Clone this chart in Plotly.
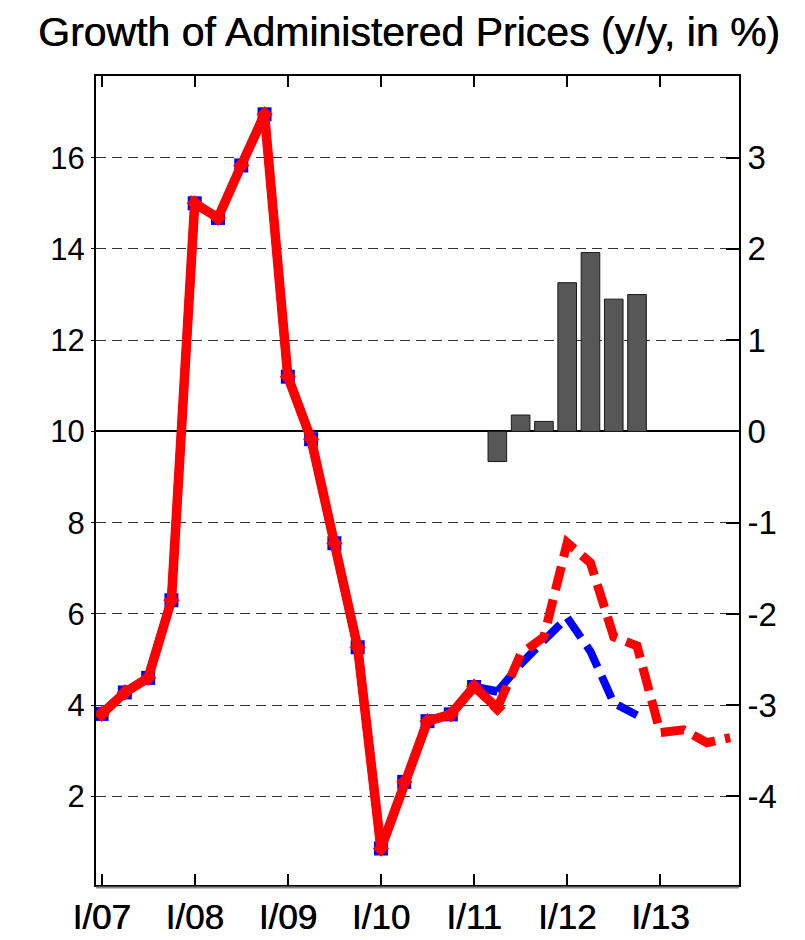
import plotly.graph_objects as go

# ---------------- data ----------------
quarters = ["I/07", "II/07", "III/07", "IV/07",
            "I/08", "II/08", "III/08", "IV/08",
            "I/09", "II/09", "III/09", "IV/09",
            "I/10", "II/10", "III/10", "IV/10",
            "I/11", "II/11", "III/11", "IV/11",
            "I/12", "II/12", "III/12", "IV/12",
            "I/13", "II/13", "III/13", "IV/13"]

# blue series (previous forecast), Q1/07 .. Q4/12
blue_values = [3.81, 4.28, 4.60, 6.30,
               15.00, 14.68, 15.83, 16.95,
               11.20, 9.83, 7.55, 5.27,
               0.86, 2.32, 3.65, 3.80,
               4.40, 4.30, 4.90, 5.42,
               5.92, 5.18, 4.05, 3.78]

# red series (current forecast), Q1/07 .. Q4/13
red_values = [3.81, 4.28, 4.60, 6.30,
              15.00, 14.68, 15.83, 16.95,
              11.20, 9.83, 7.55, 5.27,
              0.86, 2.32, 3.65, 3.80,
              4.41, 3.94, 5.12, 5.50,
              7.56, 7.12, 5.50, 5.30,
              3.40, 3.46, 3.18, 3.29]

# difference bars (right axis), Q2/11 .. Q4/12
bar_quarters = ["II/11", "III/11", "IV/11", "I/12", "II/12", "III/12", "IV/12"]
bar_values = [-0.33, 0.18, 0.11, 1.63, 1.96, 1.45, 1.50]

# axis ticks
x_tick_labels = ["I/07", "I/08", "I/09", "I/10", "I/11", "I/12", "I/13"]
left_ticks = [2, 4, 6, 8, 10, 12, 14, 16]
right_ticks = [-4, -3, -2, -1, 0, 1, 2, 3]
right_tick_text = ["-4", "-3", "-2", "-1", "0", "1", "2", "3"]

title_text = "Growth of Administered Prices (y/y, in %)"

# split between history (solid, markers) and forecast (dashed)
last_blue_marker = quarters.index("I/11")
split = quarters.index("II/11")

# ---------------- derived positions ----------------
xi = list(range(len(quarters)))
bar_x = [quarters.index(q) for q in bar_quarters]
x_tick_vals = [quarters.index(q) for q in x_tick_labels]

FONT = "Liberation Sans, Arial, sans-serif"
RED = "#ff0000"
BLUE = "#0000ff"

fig = go.Figure()

# bars on right axis
fig.add_trace(go.Bar(
    x=bar_x, y=bar_values, yaxis="y2",
    marker=dict(color="#575757", line=dict(color="#1a1a1a", width=1)),
    width=0.8, showlegend=False, hoverinfo="skip"))

# blue history line
fig.add_trace(go.Scatter(
    x=xi[:split + 1], y=blue_values[:split + 1], mode="lines",
    line=dict(color=BLUE, width=8.5), showlegend=False))
# blue squares
fig.add_trace(go.Scatter(
    x=xi[:last_blue_marker + 1], y=blue_values[:last_blue_marker + 1], mode="markers",
    marker=dict(symbol="square", size=14, color=BLUE), showlegend=False))
# blue forecast dashed
fig.add_trace(go.Scatter(
    x=xi[split:len(blue_values)], y=blue_values[split:], mode="lines",
    line=dict(color=BLUE, width=8, dash="24px,10px"), showlegend=False))

# red history line
fig.add_trace(go.Scatter(
    x=xi[:split + 1], y=red_values[:split + 1], mode="lines",
    line=dict(color=RED, width=9.5), showlegend=False))
# red forecast dashed
fig.add_trace(go.Scatter(
    x=xi[split:], y=red_values[split:], mode="lines",
    line=dict(color=RED, width=9, dash="24px,10px"), showlegend=False))
# red diamonds
fig.add_trace(go.Scatter(
    x=xi[:split + 1], y=red_values[:split + 1], mode="markers",
    marker=dict(symbol="diamond", size=12.5, color=RED), showlegend=False))

fig.update_layout(
    width=805, height=940,
    margin=dict(l=88, r=74, t=68, b=50),
    paper_bgcolor="white", plot_bgcolor="white",
    font=dict(family=FONT, size=31, color="black"),
    title=dict(text=title_text, x=401 / 805, xanchor="center", xref="container",
               y=1 - 24 / 940, yanchor="middle", yref="container",
               font=dict(family=FONT, size=41, color="black",
                         shadow="0.5px 0px 0px #000000")),
    showlegend=False,
    bargap=0.2,
    xaxis=dict(
        range=[-0.24, 27.38], tickmode="array", tickvals=x_tick_vals,
        ticktext=x_tick_labels, ticks="inside", ticklen=11, tickwidth=1.5,
        tickcolor="black", showline=True, linecolor="black", linewidth=2,
        mirror="ticks", showgrid=False, zeroline=False,
        tickfont=dict(family=FONT, size=35, shadow="0.6px 0px 0px #000000")),
    yaxis=dict(
        range=[0.06, 17.79], tickmode="array", tickvals=left_ticks,
        ticks="outside", ticklen=3, tickcolor="black",
        showline=True, linecolor="black", linewidth=2,
        showgrid=True, gridcolor="#333333", gridwidth=1, griddash="10px,6px",
        zeroline=False, tickfont=dict(family=FONT, size=31)),
    yaxis2=dict(
        overlaying="y", side="right",
        range=[-4.97, 3.895], tickmode="array", tickvals=right_ticks,
        ticktext=right_tick_text, ticks="inside", ticklen=13, tickwidth=1.5,
        tickcolor="black", showline=True, linecolor="black", linewidth=2,
        showgrid=False, zeroline=True, zerolinecolor="black", zerolinewidth=2,
        tickfont=dict(family=FONT, size=33)),
)

# gray shadow line under the bottom axis
fig.add_shape(type="line", xref="paper", yref="paper", x0=0, x1=1,
              y0=-0.003, y1=-0.003, line=dict(color="#888888", width=2))

fig.write_html("out.html")
